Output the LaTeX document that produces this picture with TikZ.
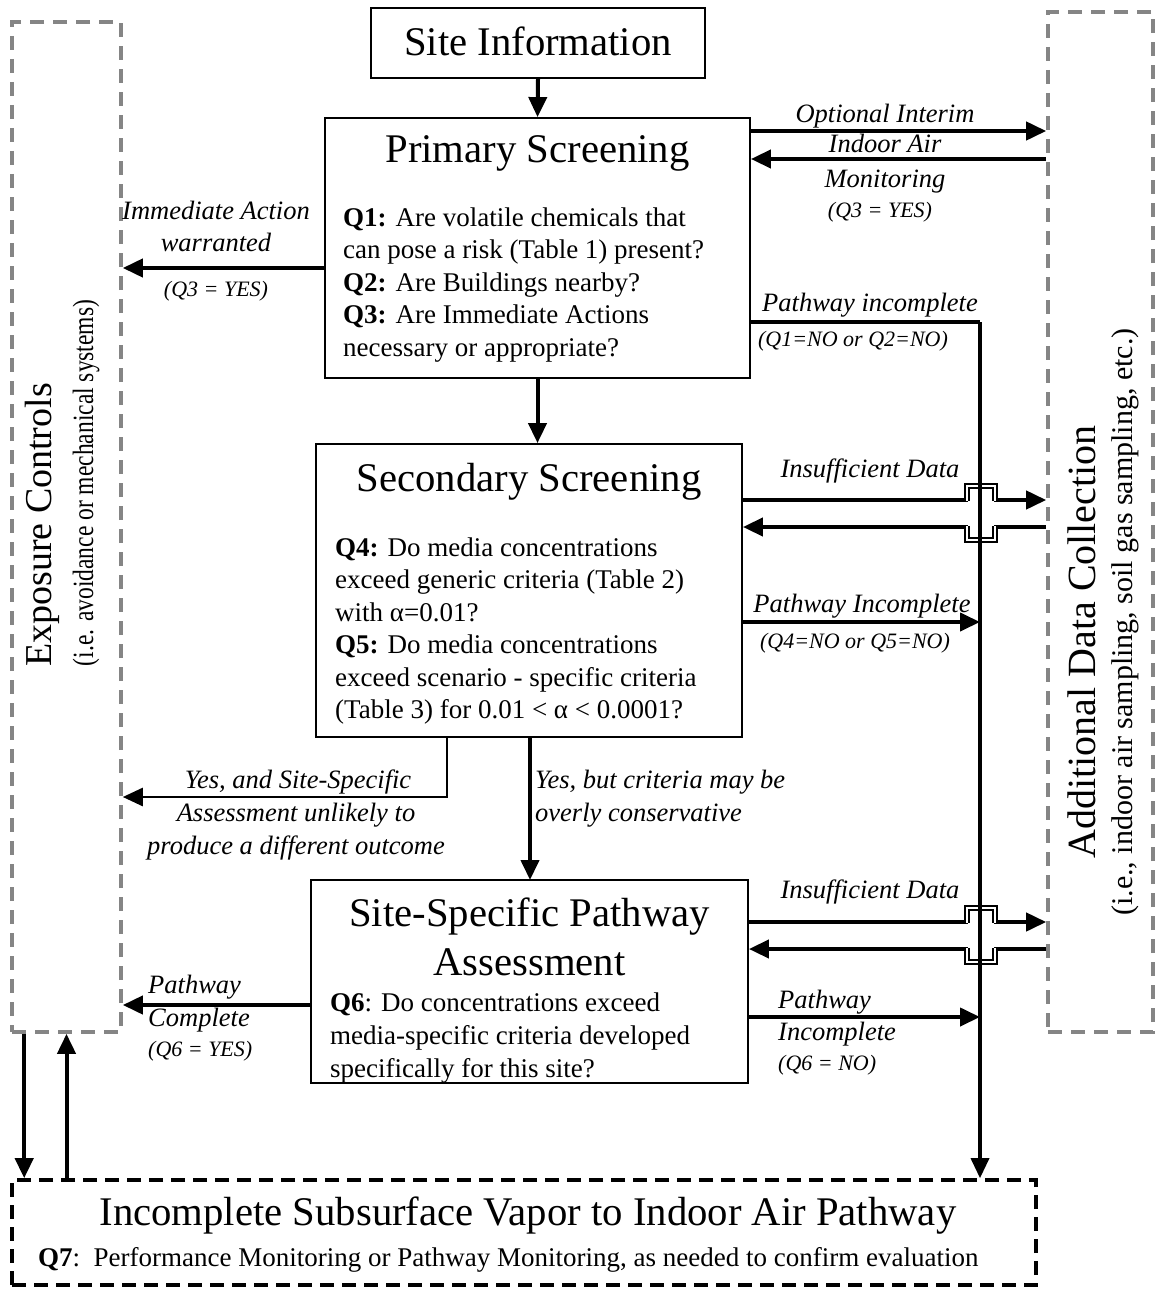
\documentclass[tikz,border=0pt]{standalone}
\usepackage{fontspec}
\setmainfont{Liberation Serif}
\newfontfamily\condfont{Liberation Serif}[FakeStretch=0.8]
\usetikzlibrary{arrows.meta}
\begin{document}
\begin{tikzpicture}[x=1pt,y=-1pt,
  box/.style={draw, line width=1.8pt, inner sep=0pt},
  graybox/.style={draw=black!48, line width=3.6pt, dash pattern=on 14pt off 9pt, inner sep=0pt},
  blackdash/.style={draw, line width=3.6pt, dash pattern=on 14pt off 8pt, inner sep=0pt},
  head/.style={font=\fontsize{40.7}{44}\selectfont, inner sep=0pt, anchor=base},
  bodyl/.style={font=\fontsize{27}{32}\selectfont, inner sep=0pt, anchor=base west},
  lab/.style={font=\fontsize{26.5}{30}\selectfont\itshape, inner sep=0pt, anchor=base},
  labl/.style={font=\fontsize{26.5}{30}\selectfont\itshape, inner sep=0pt, anchor=base west},
  plab/.style={font=\fontsize{22}{26}\selectfont\itshape, inner sep=0pt, anchor=base},
  plabl/.style={font=\fontsize{22}{26}\selectfont\itshape, inner sep=0pt, anchor=base west},
  tip/.style={-{Triangle[length=20pt,width=18pt]}},
  arr/.style={line width=4pt, tip},
  ln/.style={line width=4pt},
  vln/.style={line width=3.4pt},
  hop/.style={draw=black, line width=2pt, double=white, double distance=2.2pt}
]
\useasboundingbox (0,0) rectangle (1156,1292);

% side boxes
\node[graybox, minimum width=109pt, minimum height=1010pt] (ec) at (66.5,527) {};
\node[graybox, minimum width=105pt, minimum height=1020pt] (adc) at (1100.5,522) {};
\node[rotate=90, font=\fontsize{38}{40}\selectfont, inner sep=0pt] (ect) at (42,525) {Exposure Controls};
\node[rotate=90, font=\condfont\fontsize{29.4}{32}\selectfont, inner sep=0pt] (ecs) at (86,483) {(i.e. avoidance or mechanical systems)};
\node[rotate=90, font=\fontsize{40}{42}\selectfont, inner sep=0pt] (adct) at (1082,642) {Additional Data Collection};
\node[rotate=90, font=\fontsize{30}{32}\selectfont, inner sep=0pt] (adcs) at (1125,622) {(i.e., indoor air sampling, soil gas sampling, etc.)};

% main boxes
\node[box, minimum width=334pt, minimum height=70pt] (site) at (538,43) {};
\node[head] (sitet) at (538,56) {Site Information};

\node[box, minimum width=425pt, minimum height=260pt] (prim) at (537.5,248) {};
\node[head] (primt) at (537.5,163) {Primary Screening};
\node[bodyl] (p1) at (343,226) {\textbf{Q1:} Are volatile chemicals that};
\node[bodyl] (p2) at (343,258.5) {can pose a risk (Table 1) present?};
\node[bodyl] (p3) at (343,291) {\textbf{Q2:} Are Buildings nearby?};
\node[bodyl] (p4) at (343,323.5) {\textbf{Q3:} Are Immediate Actions};
\node[bodyl] (p5) at (343,356) {necessary or appropriate?};

\node[box, minimum width=426pt, minimum height=293pt] (sec) at (529,590.5) {};
\node[head] (sect) at (529,491) {Secondary Screening};
\node[bodyl] (s1) at (335,556) {\textbf{Q4:} Do media concentrations};
\node[bodyl] (s2) at (335,588.5) {exceed generic criteria (Table 2)};
\node[bodyl] (s3) at (335,621) {with α=0.01?};
\node[bodyl] (s4) at (335,653.5) {\textbf{Q5:} Do media concentrations};
\node[bodyl] (s5) at (335,686) {exceed scenario - specific criteria};
\node[bodyl] (s6) at (335,718.5) {(Table 3) for 0.01 < α < 0.0001?};

\node[box, minimum width=437pt, minimum height=203pt] (sspa) at (529.5,981.5) {};
\node[head] (sspat1) at (529.5,926) {Site-Specific Pathway};
\node[head] (sspat2) at (529.5,975) {Assessment};
\node[bodyl] (a1) at (330,1011) {\textbf{Q6}: Do concentrations exceed};
\node[bodyl] (a2) at (330,1044) {media-specific criteria developed};
\node[bodyl] (a3) at (330,1077) {specifically for this site?};

\node[blackdash, minimum width=1024pt, minimum height=105pt] (inc) at (524,1232.5) {};
\node[head] (inct) at (528,1225) {Incomplete Subsurface Vapor to Indoor Air Pathway};
\node[bodyl] (q7) at (38,1266) {\textbf{Q7}:\ \ Performance Monitoring or Pathway Monitoring, as needed to confirm evaluation};

% connectors
\draw[arr] (site.south) -- (prim.north);
\draw[arr] (prim.south) -- (sec.north -| prim.south);
\draw[arr] (prim.east |- 0,131) -- (adc.west |- 0,131);
\draw[arr] (adc.west |- 0,159) -- (prim.east |- 0,159);
\draw[arr] (prim.west |- 0,268) -- (ec.east |- 0,268);

\coordinate (vtop) at (980,322);
\draw[ln] (prim.east |- 0,322) -- (vtop);

% insufficient data loops with hops over the vertical line
\draw[ln] (sec.east |- 0,500) -- (968,500);
\draw[ln, tip] (994,500) -- (adc.west |- 0,500);
\draw[hop] (967,501) -- (967,486) -- (995,486) -- (995,501);
\draw[ln] (adc.west |- 0,527) -- (994,527);
\draw[ln, tip] (968,527) -- (sec.east |- 0,527);
\draw[hop] (995,526) -- (995,540) -- (967,540) -- (967,526);

\draw[ln] (sspa.east |- 0,922) -- (968,922);
\draw[ln, tip] (994,922) -- (adc.west |- 0,922);
\draw[hop] (967,923) -- (967,908) -- (995,908) -- (995,923);
\draw[ln] (adc.west |- 0,949) -- (994,949);
\draw[ln, tip] (968,949) -- (sspa.east |- 0,949);
\draw[hop] (995,948) -- (995,962) -- (967,962) -- (967,948);

\draw[vln, tip] (vtop) -- (vtop |- inc.north);

\draw[arr] (sec.east |- 0,622) -- (vtop |- 0,622);
\draw[line width=2.6pt, tip] (447,737) -- (447,797) -- (ec.east |- 0,797);
\draw[arr] (530,737) -- (530,880);
\draw[arr] (sspa.east |- 0,1017) -- (vtop |- 0,1017);
\draw[arr] (sspa.west |- 0,1005) -- (ec.east |- 0,1005);

\draw[arr] ([xshift=14pt]ec.south west) -- ([xshift=14pt]ec.south west |- inc.north);
\draw[arr] (ec.south |- inc.north) -- (ec.south);

% labels
\node[lab] (l1) at (885,123) {Optional Interim};
\node[lab] (l2) at (885,153) {Indoor Air};
\node[lab] (l3) at (885,188) {Monitoring};
\node[plab] (l4) at (880,218) {(Q3 = YES)};
\node[lab] (l5) at (216,219) {Immediate Action};
\node[lab] (l6) at (216,251) {warranted};
\node[plab] (l7) at (216,296) {(Q3 = YES)};
\node[lab] (l8) at (870,311) {Pathway incomplete};
\node[plab] (l9) at (853,346) {(Q1=NO or Q2=NO)};
\node[lab] (l10) at (870,477) {Insufficient Data};
\node[lab] (l11) at (862,612) {Pathway Incomplete};
\node[plab] (l12) at (855,648) {(Q4=NO or Q5=NO)};
\node[lab] (l13) at (298,788) {Yes, and Site-Specific};
\node[lab] (l14) at (296,821) {Assessment unlikely to};
\node[lab] (l15) at (296,854) {produce a different outcome};
\node[labl] (l16) at (535,788) {Yes, but criteria may be};
\node[labl] (l17) at (535,821) {overly conservative};
\node[lab] (l18) at (870,898) {Insufficient Data};
\node[labl] (l19) at (778,1008) {Pathway};
\node[labl] (l20) at (778,1040) {Incomplete};
\node[plabl] (l21) at (778,1070) {(Q6 = NO)};
\node[labl] (l22) at (148,993) {Pathway};
\node[labl] (l23) at (148,1026) {Complete};
\node[plabl] (l24) at (148,1056) {(Q6 = YES)};
\end{tikzpicture}
\end{document}
